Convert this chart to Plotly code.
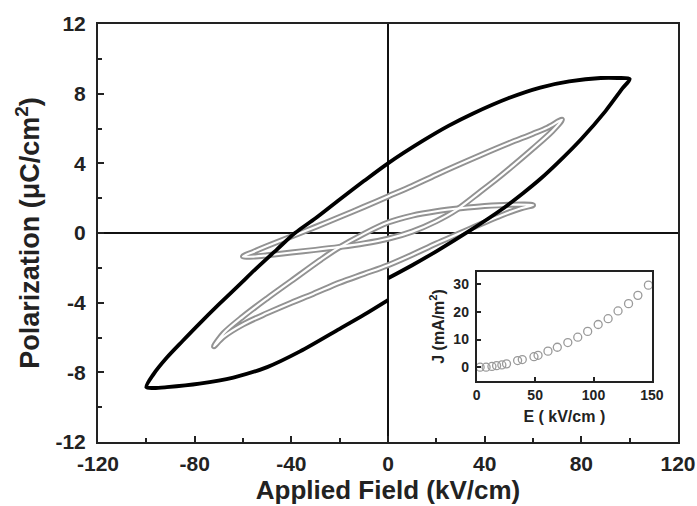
import plotly.graph_objects as go

# ---------------- data ----------------
# Black loop: continuous path starting at E=0 (lower branch, right part),
# up to +Emax, down the upper branch to -Emax, then back to E=0.
black_E = [0, 10, 20, 34, 47, 56, 63, 70, 80, 90, 97, 100,
           95, 88, 75, 63, 50, 35, 25, 14.5, 0, -10, -20, -30, -38.5, -46, -55,
           -61, -70, -78, -85, -91.5, -97, -100,
           -97, -91.5, -78, -64, -50, -36.4, -20, -10, 0]
black_P = [-2.6, -1.85, -1.05, 0.15, 1.35, 2.3, 3.1, 4.0, 5.4, 7.0, 8.3, 8.84,
           8.9, 8.9, 8.7, 8.35, 7.75, 6.85, 6.15, 5.3, 4.0, 2.98, 1.93, 0.85, 0.0, -0.95, -2.1,
           -2.9, -4.1, -5.2, -6.2, -7.15, -8.1, -8.85,
           -8.9, -8.85, -8.65, -8.3, -7.7, -6.8, -5.5, -4.7, -3.85]

# Gray loop X (tips at -60 and +72 kV/cm)
grayX_E = [72, 66, 60, 50, 38, 20, 10, 0, -10, -20, -30, -40, -50, -56, -60,
           -55, -50, -40, -30, -20, -10, 0, 10, 20, 28, 38, 45, 52, 60, 68, 72]
grayX_P = [6.5, 6.05, 5.7, 5.15, 4.45, 3.35, 2.7, 2.1, 1.5, 0.92, 0.35, -0.2, -0.75, -1.1, -1.35,
           -1.35, -1.28, -1.12, -0.97, -0.8, -0.6, -0.33, 0.08, 0.68, 1.3, 2.35, 3.1, 3.9, 4.85, 5.85, 6.5]

# Gray loop Y (tips at -72 and +60 kV/cm)
grayY_E = [-72, -68, -60, -50, -40, -31, -20, -10, 0, 10, 20, 34, 47.6, 55, 60,
           50, 40, 30, 20, 10, 0, -10, -21, -28, -40, -50, -60, -68, -72]
grayY_P = [-6.5, -5.95, -5.25, -4.6, -4.0, -3.5, -2.85, -2.35, -1.85, -1.25, -0.6, 0.25, 1.05, 1.42, 1.6,
           1.62, 1.55, 1.42, 1.25, 1.0, 0.6, -0.05, -0.9, -1.55, -2.75, -3.75, -4.8, -5.75, -6.5]

# Inset: leakage current density
inset_E = [2.9, 8, 13, 17, 21.5, 25.5, 35, 39, 49, 52.5, 61, 69, 78, 86.5, 95, 104, 112.5, 121, 130, 138, 147]
inset_J = [0, 0, 0.25, 0.55, 0.8, 1.2, 2.4, 2.75, 3.8, 4.3, 5.8, 7.2, 8.9, 10.85, 12.95, 15.45, 17.55, 20.35, 23.0, 26.0, 29.7]

main_xticks = [-120, -80, -40, 0, 40, 80, 120]
main_yticks = [-12, -8, -4, 0, 4, 8, 12]
inset_xticks = [0, 50, 100, 150]
inset_yticks = [0, 10, 20, 30]

# ---------------- figure ----------------
FONT = "Liberation Sans"
INK = "#222222"


def labels(vals):
    return [str(v) for v in vals]  # plain hyphen minus like the reference


fig = go.Figure()

for E, P in ((grayX_E, grayX_P), (grayY_E, grayY_P)):
    fig.add_trace(go.Scatter(x=E, y=P, mode="lines",
                             line=dict(color="#929292", width=6, shape="spline", smoothing=0.9),
                             hoverinfo="skip", showlegend=False))
for E, P in ((grayX_E, grayX_P), (grayY_E, grayY_P)):
    fig.add_trace(go.Scatter(x=E, y=P, mode="lines",
                             line=dict(color="white", width=2.2, shape="spline", smoothing=0.9),
                             hoverinfo="skip", showlegend=False))

fig.add_trace(go.Scatter(x=black_E, y=black_P, mode="lines",
                         line=dict(color="black", width=3.8, shape="spline", smoothing=0.8),
                         showlegend=False))

fig.add_trace(go.Scatter(x=inset_E, y=inset_J, mode="markers", xaxis="x2", yaxis="y2",
                         marker=dict(symbol="circle-open", size=8, color="#9a9a9a",
                                     line=dict(width=1.3, color="#9a9a9a")),
                         showlegend=False))

tickfont_main = dict(family=FONT, size=21, color=INK, weight="bold")
tickfont_inset = dict(family=FONT, size=14, color=INK, weight="bold")

common = dict(showline=True, mirror=True, linewidth=2, linecolor=INK, showgrid=False,
              automargin=False, tickcolor=INK, ticks="inside", tickwidth=2)

fig.update_layout(
    width=697, height=506, autosize=False,
    margin=dict(l=98, r=19, t=24, b=64, autoexpand=False),
    paper_bgcolor="white", plot_bgcolor="white",
    xaxis=dict(
        range=[-120, 120], tickvals=main_xticks, ticktext=labels(main_xticks), ticklen=6,
        minor=dict(ticks="inside", ticklen=4, tickwidth=1.5, dtick=20, tick0=0, tickcolor=INK),
        zeroline=True, zerolinecolor="#111111", zerolinewidth=1.6,
        tickfont=tickfont_main, ticklabelstandoff=2,
        title=dict(text="Applied Field (kV/cm)", standoff=4,
                   font=dict(family=FONT, size=26, color=INK, weight="bold")),
        **common,
    ),
    yaxis=dict(
        range=[-12, 12], tickvals=main_yticks, ticktext=labels(main_yticks), ticklen=6,
        minor=dict(ticks="inside", ticklen=4, tickwidth=1.5, dtick=2, tick0=0, tickcolor=INK),
        zeroline=True, zerolinecolor="#111111", zerolinewidth=1.6,
        tickfont=tickfont_main, ticklabelstandoff=6,
        title=dict(text="Polarization (\u03bcC/cm<sup>2</sup>)", standoff=8,
                   font=dict(family=FONT, size=27, color=INK, weight="bold")),
        **common,
    ),
    xaxis2=dict(
        domain=[0.653, 0.955], anchor="y2", range=[0, 150], tickvals=inset_xticks, ticklen=4,
        zeroline=False, tickfont=tickfont_inset, ticklabelstandoff=0,
        title=dict(text="E ( kV/cm )", standoff=9,
                   font=dict(family=FONT, size=16, color=INK, weight="bold")),
        **common,
    ),
    yaxis2=dict(
        domain=[0.146, 0.407], anchor="x2", range=[-5, 34.5], tickvals=inset_yticks, ticklen=4,
        zeroline=False, tickfont=tickfont_inset, ticklabelstandoff=3,
        title=dict(text="J (mA/m<sup>2</sup>)", standoff=5,
                   font=dict(family=FONT, size=16, color=INK, weight="bold")),
        **common,
    ),
)

fig.write_html("out.html", config={"displayModeBar": False},
               post_script="document.body.style.margin='0px';")
